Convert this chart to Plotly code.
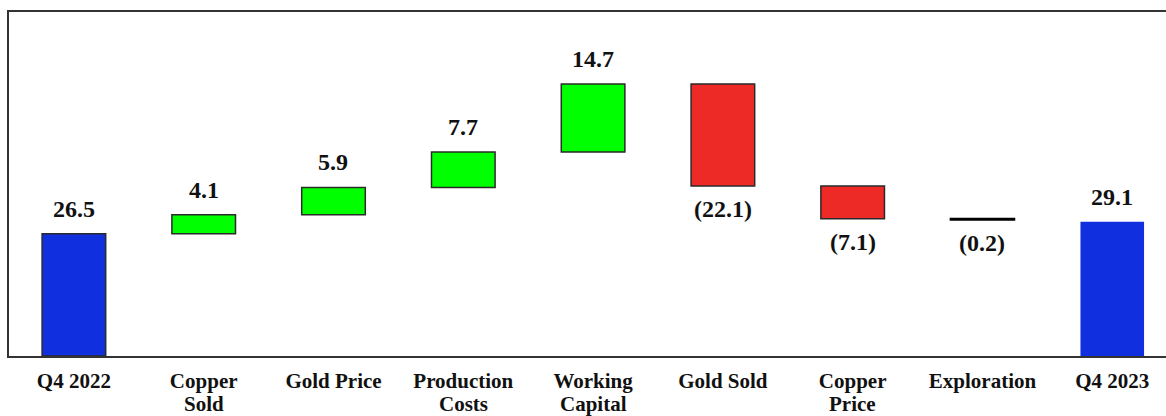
import plotly.graph_objects as go

# Bridge from Q4 2022 to Q4 2023
categories = ["Q4 2022", "Copper<br>Sold", "Gold Price", "Production<br>Costs",
              "Working<br>Capital", "Gold Sold", "Copper<br>Price", "Exploration", "Q4 2023"]
opening = 26.5
changes = [4.1, 5.9, 7.7, 14.7, -22.1, -7.1, -0.2]
closing = 29.1
value_labels = ["26.5", "4.1", "5.9", "7.7", "14.7", "(22.1)", "(7.1)", "(0.2)", "29.1"]

BLUE = "#1030E0"
GREEN = "#00FF00"
RED = "#EE2A26"
OUTLINE = "#2a2a2a"
FONT = "Liberation Serif, Times New Roman, serif"

# Bar bases and heights from the running total
bases, heights, colors, line_colors, line_widths = [0], [opening], [BLUE], [OUTLINE], [1.5]
running = opening
for c in changes:
    bases.append(running)
    heights.append(c)
    running += c
    small = abs(c) < 0.5
    colors.append("#000000" if small else (GREEN if c > 0 else RED))
    line_colors.append("#000000" if small else OUTLINE)
    line_widths.append(2 if small else 1.5)
bases.append(0)
heights.append(closing)
colors.append(BLUE)
line_colors.append(BLUE)
line_widths.append(0)

x = list(range(len(categories)))

fig = go.Figure(go.Bar(
    x=x, y=heights, base=bases, width=0.49,
    marker=dict(color=colors, line=dict(color=line_colors, width=line_widths)),
    hoverinfo="skip",
))

# Value labels above rising bars, below falling ones
label_font = dict(family=FONT, size=24, weight="bold", color="#111111")
tick_font = dict(family=FONT, size=21, weight="bold", color="#111111")
annotations = []
for i, (b, h, lab) in enumerate(zip(bases, heights, value_labels)):
    if h >= 0:
        annotations.append(dict(x=i, y=b + h, text=lab, showarrow=False,
                                yanchor="bottom", yshift=10, font=label_font))
    else:
        annotations.append(dict(x=i, y=b + h, text=lab, showarrow=False,
                                yanchor="top", yshift=-8, font=label_font))

# Category names: first line as tick label, second line set tighter underneath
first_lines = [c.split("<br>")[0] for c in categories]
for i, c in enumerate(categories):
    parts = c.split("<br>")
    if len(parts) > 1:
        annotations.append(dict(x=i, xref="x", y=0, yref="paper", text=parts[1],
                                showarrow=False, yanchor="bottom", yshift=-61,
                                font=tick_font, borderpad=0))

fig.update_layout(
    width=1166, height=416,
    margin=dict(l=9, r=0, t=12, b=60),
    plot_bgcolor="white", paper_bgcolor="white",
    showlegend=False,
    font=dict(family=FONT, color="#111111"),
    annotations=annotations,
    xaxis=dict(
        tickmode="array", tickvals=x, ticktext=first_lines,
        range=[-0.5, 8.414], showgrid=False, zeroline=False, automargin=False,
        showline=True, mirror=True, linecolor="#333333", linewidth=2,
        ticks="", tickfont=tick_font,
        ticklabelstandoff=5,
    ),
    yaxis=dict(
        range=[0, 74.5], showgrid=False, zeroline=False, showticklabels=False,
        automargin=False,
        showline=True, linecolor="#333333", linewidth=2, ticks="",
    ),
)

fig.write_html("out.html")
